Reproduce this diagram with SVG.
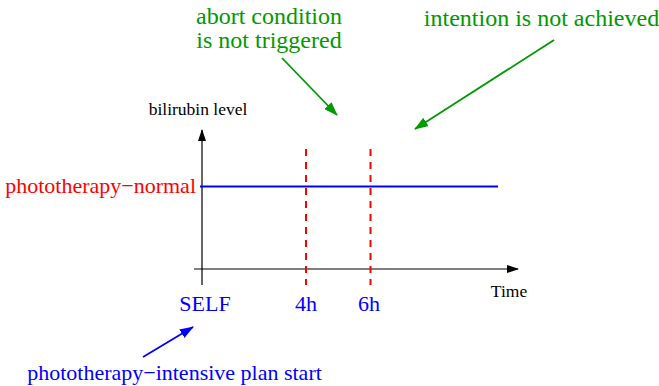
<svg xmlns="http://www.w3.org/2000/svg" width="659" height="386" viewBox="0 0 659 386">
<style>
text{font-family:"Liberation Serif","Times New Roman",serif}
.g{fill:#009900;font-size:24px}
.r{fill:#ff0000;font-size:22px}
.b{fill:#0000ff;font-size:22px}
.k{fill:#000;font-size:17.5px}
.dash{stroke:#ff0000;stroke-width:2;stroke-dasharray:7,6;fill:none}
</style>
<defs>
<marker id="ak" markerWidth="12" markerHeight="8" refX="11" refY="4" orient="auto" markerUnits="userSpaceOnUse"><path d="M0,0L12,4L0,8z" fill="#000"/></marker>
<marker id="ag" markerWidth="14" markerHeight="10" refX="13" refY="5" orient="auto" markerUnits="userSpaceOnUse"><path d="M0,0L14,5L0,10z" fill="#009900"/></marker>
<marker id="ab" markerWidth="14" markerHeight="10" refX="13" refY="5" orient="auto" markerUnits="userSpaceOnUse"><path d="M0,0L14,5L0,10z" fill="#0000ff"/></marker>
</defs>
<g id="connectors">
<line x1="202" y1="285" x2="202" y2="130" stroke="#555" stroke-width="1.8" marker-end="url(#ak)"/>
<line x1="194" y1="269" x2="518" y2="269" stroke="#000" stroke-width="1.2" marker-end="url(#ak)"/>
<line x1="200" y1="186.5" x2="498" y2="186.5" stroke="#0000ff" stroke-width="2"/>
<line class="dash" x1="306" y1="149" x2="306" y2="285"/>
<line class="dash" x1="370.5" y1="149" x2="370.5" y2="285"/>
<line x1="282" y1="58" x2="337" y2="115" stroke="#009900" stroke-width="1.8" marker-end="url(#ag)"/>
<line x1="554" y1="40" x2="415" y2="129" stroke="#009900" stroke-width="1.8" marker-end="url(#ag)"/>
<line x1="143" y1="357" x2="193" y2="327" stroke="#0000ff" stroke-width="1.8" marker-end="url(#ab)"/>
</g>
<g id="labels">
<text class="g" x="269" y="24" text-anchor="middle">abort condition</text>
<text class="g" x="269" y="48" text-anchor="middle">is not triggered</text>
<text class="g" x="541.5" y="26" text-anchor="middle">intention is not achieved</text>
<text class="k" x="198" y="115" text-anchor="middle">bilirubin level</text>
<text class="r" x="196" y="193" text-anchor="end">phototherapy−normal</text>
<text class="k" x="509" y="297" text-anchor="middle">Time</text>
<text class="b" x="205" y="311" text-anchor="middle">SELF</text>
<text class="b" x="306" y="311" text-anchor="middle">4h</text>
<text class="b" x="369" y="311" text-anchor="middle">6h</text>
<text class="b" x="174.5" y="380" text-anchor="middle">phototherapy−intensive plan start</text>
</g>
</svg>
